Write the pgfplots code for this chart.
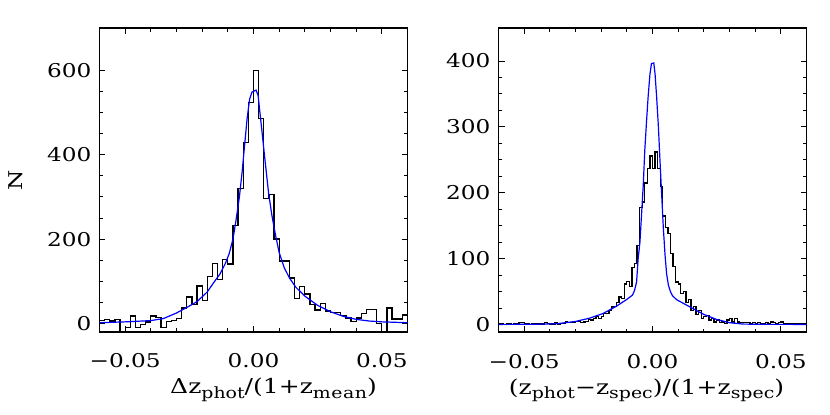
\documentclass[border=0pt]{standalone}
\usepackage{fontspec}
\setmainfont{DejaVu Serif}[FakeStretch=1.22]
\usepackage{pgfplots}
\pgfplotsset{compat=1.18}

% lowered, smaller text for the subscripts in the axis titles
\newcommand\sub[1]{\raisebox{-0.2em}{\fontsize{15.5}{15.5}\selectfont #1}}

\pgfplotsset{
  panel/.style={
    scale only axis, width=308pt, height=304pt,
    xmin=-0.06, xmax=0.06,
    xtick={-0.05,0,0.05}, xticklabels={−0.05,0.00,0.05},
    minor x tick num=4,
    /pgf/number format/assume math mode=true,
    axis line style={line width=1.1pt},
    tick style={line width=0.9pt, black},
    major tick length=6pt, minor tick length=3.5pt,
    xticklabel style={anchor=base, yshift=-36pt},
    yticklabel style={anchor=east, inner sep=0pt, xshift=-8pt},
    x label style={at={(axis description cs:0.5,0)}, anchor=base, yshift=-62pt,
      font=\fontsize{20.5}{24}\selectfont, inner sep=0pt},
  },
  hist/.style={black, line width=1.3pt, const plot mark left},
  fit/.style={blue, line width=1.2pt},
}

\begin{document}
\fontsize{19}{23}\selectfont
\begin{tikzpicture}
\useasboundingbox (0,0) rectangle (830pt,-415pt);

\begin{axis}[panel, at={(99.5pt,-28pt)}, anchor=north west,
  ymin=-20, ymax=700, ytick={0,200,400,600}, minor y tick num=3,
  xlabel={Δz\sub{phot}/(1+z\sub{m\kern0.5pt e\kern0.5pt a\kern0.5pt n})}, x label style={xshift=20pt},
  ylabel={N}, ylabel style={at={(axis description cs:-0.2727,0.5)}, anchor=center},
]
\addplot[hist] coordinates {
 (-0.060,8) (-0.058,10) (-0.056,6) (-0.054,9) (-0.052,-20) (-0.050,-9)
 (-0.048,18) (-0.046,-10) (-0.044,-3) (-0.042,4) (-0.040,18) (-0.038,15)
 (-0.036,-9) (-0.034,5) (-0.032,7) (-0.030,12) (-0.028,37) (-0.026,63)
 (-0.024,45) (-0.022,89) (-0.020,54) (-0.018,112) (-0.016,142) (-0.014,104)
 (-0.012,152) (-0.010,141) (-0.008,232) (-0.006,320) (-0.004,429) (-0.002,524)
 (0.000,600) (0.002,486) (0.004,296) (0.006,306) (0.008,200) (0.010,148)
 (0.012,148) (0.014,108) (0.016,60) (0.018,87) (0.020,70) (0.022,45)
 (0.024,32) (0.026,47) (0.028,30) (0.030,26) (0.032,26) (0.034,19)
 (0.036,13) (0.038,5) (0.040,13) (0.042,23) (0.044,33) (0.046,33)
 (0.048,0) (0.050,-20) (0.052,37) (0.054,11) (0.056,11) (0.058,20)
 (0.060,20)
};
\addplot[fit] coordinates {
 (-0.060,2) (-0.050,4) (-0.040,7) (-0.035,12) (-0.030,25) (-0.026,38)
 (-0.022,52) (-0.018,75) (-0.0155,97) (-0.013,118) (-0.011,142) (-0.0095,165)
 (-0.008,200) (-0.0068,245) (-0.0055,300) (-0.0045,355) (-0.0035,420)
 (-0.0025,485) (-0.0015,532) (-0.0006,548) (0.0010,553) (0.0018,540)
 (0.0025,500) (0.0033,455) (0.0046,380) (0.0059,308) (0.0072,255)
 (0.0085,212) (0.0100,168) (0.0120,132) (0.0140,108) (0.0165,86)
 (0.020,65) (0.025,43) (0.030,28) (0.035,17) (0.040,10) (0.045,6)
 (0.050,4) (0.060,2)
};
\end{axis}

\begin{axis}[panel, at={(498.5pt,-28pt)}, anchor=north west,
  ymin=-11, ymax=450, ytick={0,100,200,300,400}, minor y tick num=3,
  xlabel={(z\sub{phot}−z\sub{spec})/(1+z\sub{spec})}, x label style={xshift=-6pt},
]
\addplot[hist] coordinates {
 (-0.060,1) (-0.059,1) (-0.058,0) (-0.057,1) (-0.056,1) (-0.055,0)
 (-0.054,1) (-0.053,1) (-0.052,3) (-0.051,3) (-0.050,1) (-0.049,1)
 (-0.048,0) (-0.047,1) (-0.046,1) (-0.045,1) (-0.044,1) (-0.043,1)
 (-0.042,3) (-0.041,2) (-0.040,1) (-0.039,1) (-0.038,3) (-0.037,1)
 (-0.036,2) (-0.035,2) (-0.034,4) (-0.033,3) (-0.032,3) (-0.031,4)
 (-0.030,5) (-0.029,5) (-0.028,3) (-0.027,4) (-0.026,5) (-0.025,8)
 (-0.024,7) (-0.023,9) (-0.022,12) (-0.021,9) (-0.020,12) (-0.019,17)
 (-0.018,17) (-0.017,22) (-0.016,27) (-0.015,28) (-0.014,34) (-0.013,42)
 (-0.012,40) (-0.011,62) (-0.010,66) (-0.009,58) (-0.008,87) (-0.007,93)
 (-0.006,120) (-0.005,178) (-0.004,186) (-0.003,215) (-0.002,237) (-0.001,256)
 (0.000,237) (0.001,262) (0.002,237) (0.003,210) (0.004,165) (0.005,148)
 (0.006,138) (0.007,108) (0.008,88) (0.009,65) (0.010,62) (0.011,47)
 (0.012,50) (0.013,34) (0.014,38) (0.015,22) (0.016,28) (0.017,16)
 (0.018,22) (0.019,9) (0.020,12) (0.021,14) (0.022,7) (0.023,10)
 (0.024,4) (0.025,7) (0.026,3) (0.027,4) (0.028,2) (0.029,7)
 (0.030,9) (0.031,4) (0.032,9) (0.033,4) (0.034,3) (0.035,3)
 (0.036,3) (0.037,3) (0.038,2) (0.039,3) (0.040,2) (0.041,3)
 (0.042,2) (0.043,2) (0.044,3) (0.045,2) (0.046,4) (0.047,3)
 (0.048,2) (0.049,3) (0.050,4) (0.051,2) (0.052,1) (0.053,2)
 (0.054,1) (0.055,1) (0.056,2) (0.057,1) (0.058,2) (0.059,1)
 (0.060,1)
};
\addplot[fit] coordinates {
 (-0.060,0.5) (-0.045,0.8) (-0.0375,1.5) (-0.030,5) (-0.0245,10)
 (-0.0193,17) (-0.0141,28) (-0.0102,38) (-0.0078,45) (-0.0070,52)
 (-0.0062,65) (-0.0056,100) (-0.0049,125) (-0.0043,165) (-0.0036,212)
 (-0.0030,265) (-0.0023,310) (-0.0017,346) (-0.0010,380) (-0.0004,396)
 (0.0005,397) (0.0010,380) (0.0016,346) (0.0023,300) (0.0029,250)
 (0.0036,195) (0.0042,148) (0.0049,105) (0.0055,77) (0.0062,60)
 (0.0070,50) (0.0078,44) (0.0094,38) (0.0146,27) (0.0198,16)
 (0.0250,8) (0.0302,3) (0.0354,1) (0.0450,0.6) (0.060,0.5)
};
\end{axis}
\end{tikzpicture}
\end{document}
